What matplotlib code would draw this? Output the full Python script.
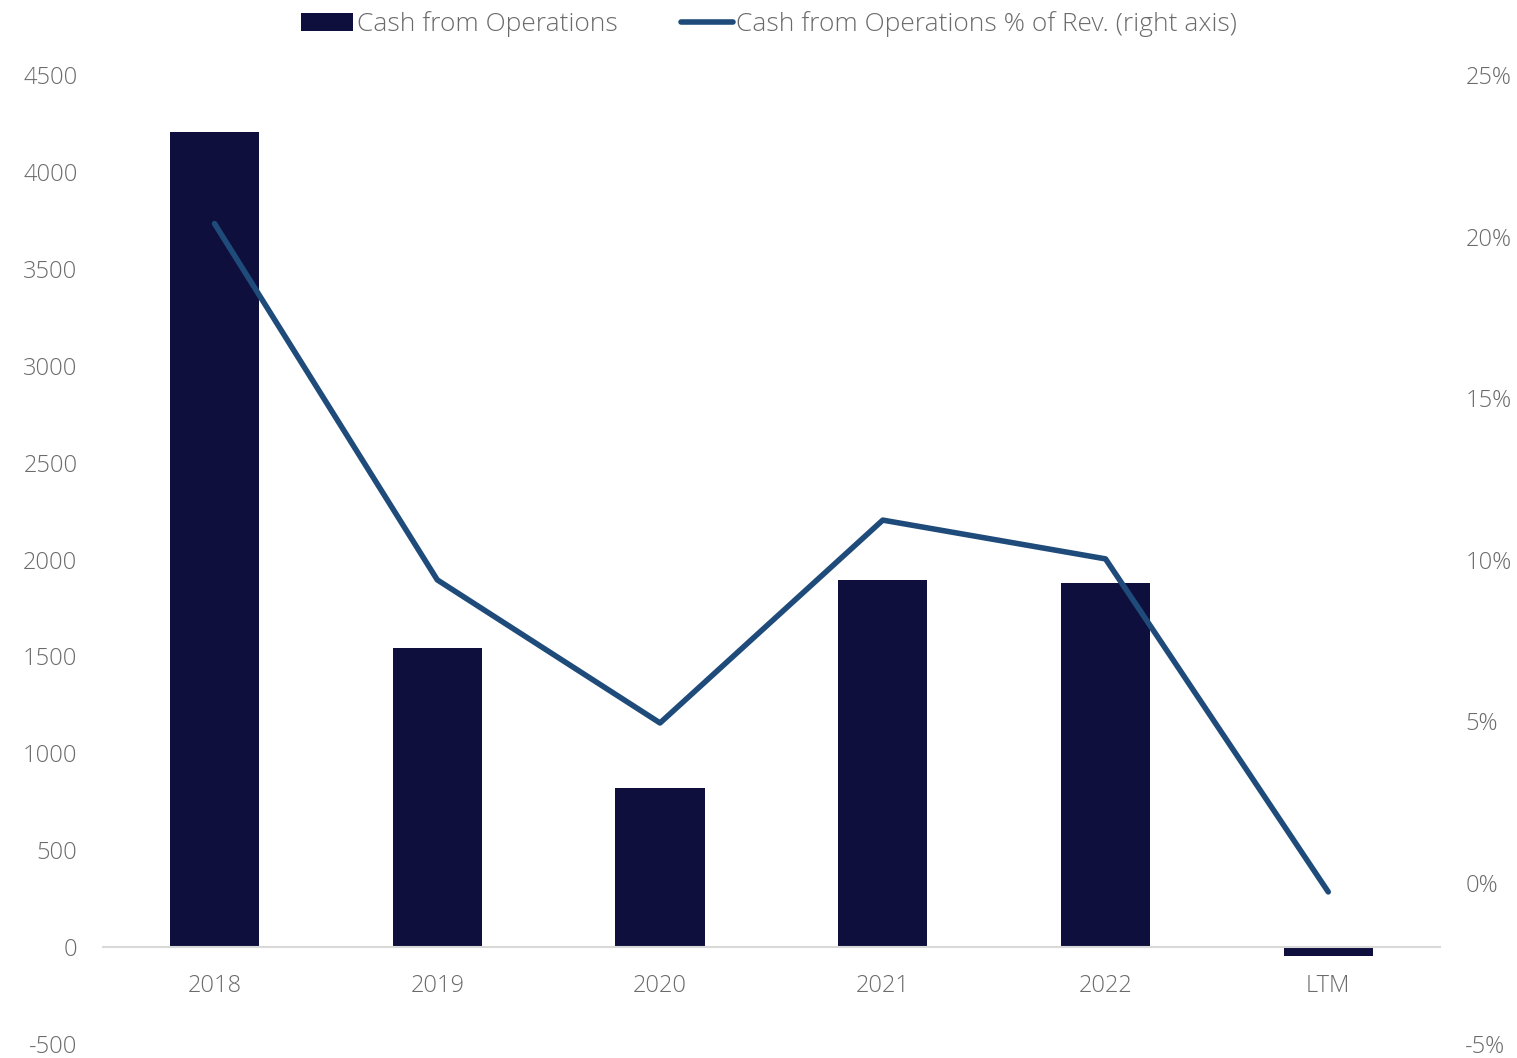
import matplotlib.pyplot as plt
from matplotlib.ticker import FuncFormatter

plt.rcParams['font.family'] = ['Open Sans', 'DejaVu Sans']
plt.rcParams['font.weight'] = 'light'
plt.rcParams['axes.unicode_minus'] = False

categories = ['2018', '2019', '2020', '2021', '2022', 'LTM']
cash_ops = [4205, 1543, 820, 1894, 1878, -46]
cash_ops_pct = [20.4, 9.37, 4.94, 11.22, 10.02, -0.29]

bar_color = '#0E0F3D'
line_color = '#1F4B7A'
text_color = '#6B6B6B'

fig = plt.figure(figsize=(15.17, 10.58), dpi=100)
ax = fig.add_axes([0.068, 0.0132, 0.881, 0.9159])
ax2 = ax.twinx()

x = list(range(len(categories)))
ax.bar(x, cash_ops, width=0.4, color=bar_color, label='Cash from Operations', zorder=2)
ax2.plot(x, cash_ops_pct, color=line_color, linewidth=4, solid_capstyle='round',
         label='Cash from Operations % of Rev. (right axis)', zorder=3)

ax.set_xlim(-0.5, 5.5)
ax.set_ylim(-500, 4500)
ax.set_yticks(range(-500, 4501, 500))
ax2.set_ylim(-5, 25)
ax2.set_yticks(range(-5, 26, 5))
ax2.yaxis.set_major_formatter(FuncFormatter(lambda v, p: f'{v:.0f}%'))

# axis line sits at zero, everything else is hidden
for a in (ax, ax2):
    for s in a.spines.values():
        s.set_visible(False)
ax.spines['bottom'].set_visible(True)
ax.spines['bottom'].set_position(('data', 0))
ax.spines['bottom'].set_color('#D9D9D9')
ax.spines['bottom'].set_linewidth(1.5)

ax.set_xticks(x)
ax.set_xticklabels(categories)
ax.tick_params(axis='x', length=0, pad=19, labelsize=17, labelcolor=text_color)
ax.tick_params(axis='y', length=0, pad=18.5, labelsize=17, labelcolor=text_color)
ax2.tick_params(axis='y', length=0, pad=18.5, labelsize=17, labelcolor=text_color)
ax2.set_zorder(ax.get_zorder() + 1)
ax2.patch.set_visible(False)

h1, l1 = ax.get_legend_handles_labels()
h2, l2 = ax2.get_legend_handles_labels()
fig.legend(h1 + h2, l1 + l2, loc='upper center', bbox_to_anchor=(0.507, 1.012),
           ncol=2, frameon=False, prop={'size': 19, 'weight': 'light'},
           labelcolor=text_color, handlelength=1.97, handletextpad=0.12,
           columnspacing=2.4)

fig.savefig('out.png', dpi=100)
